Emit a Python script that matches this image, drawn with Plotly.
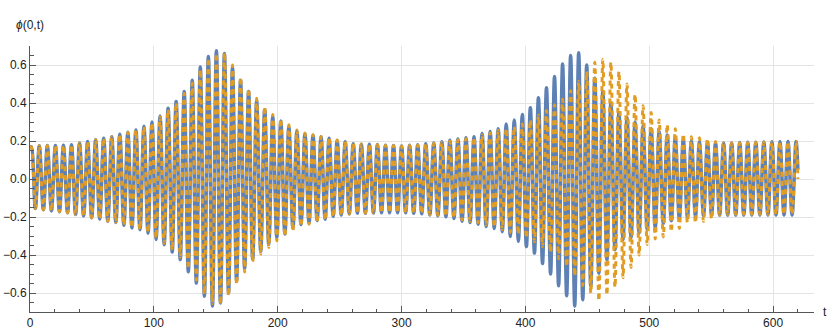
import plotly.graph_objects as go

# times of the maxima / minima
t_peak = [
    1, 7.5, 14, 20.5, 27, 33.5, 40, 46.5, 53, 59.5,
    66, 72.5, 79, 85.5, 92, 98.5, 105, 111.5, 118, 124.5,
    131, 137.5, 144, 150.5, 157, 163.5, 170, 176.5, 183, 189.5,
    196, 202.5, 209, 215.5, 222, 228.5, 235, 241.5, 248, 254.5,
    261, 267.5, 274, 280.5, 287, 293.5, 300, 306.5, 313, 319.5,
    326, 332.5, 339, 345.5, 352, 358.5, 365, 371.5, 378, 384.5,
    391, 397.5, 404, 410.5, 417, 423.5, 430, 436.5, 443, 449.5,
    456, 462.5, 469, 475.5, 482, 488.5, 495, 501.5, 508, 514.5,
    521, 527.5, 534, 540.5, 547, 553.5, 560, 566.5, 573, 579.5,
    586, 592.5, 599, 605.5, 612, 618.5,
]
t_trough = [
    4.3, 10.8, 17.3, 23.8, 30.3, 36.8, 43.3, 49.8, 56.3, 62.8,
    69.3, 75.8, 82.3, 88.8, 95.3, 101.8, 108.3, 114.8, 121.3, 127.8,
    134.3, 140.8, 147.3, 153.8, 160.3, 166.8, 173.3, 179.8, 186.3, 192.8,
    199.3, 205.8, 212.3, 218.8, 225.3, 231.8, 238.3, 244.8, 251.3, 257.8,
    264.3, 270.8, 277.3, 283.8, 290.3, 296.8, 303.3, 309.8, 316.3, 322.8,
    329.3, 335.8, 342.3, 348.8, 355.3, 361.8, 368.3, 374.8, 381.3, 387.8,
    394.3, 400.8, 407.3, 413.8, 420.3, 426.8, 433.3, 439.8, 446.3, 452.8,
    459.3, 465.8, 472.3, 478.8, 485.3, 491.8, 498.3, 504.8, 511.3, 517.8,
    524.3, 530.8, 537.3, 543.8, 550.3, 556.8, 563.3, 569.8, 576.3, 582.8,
    589.3, 595.8, 602.3, 608.8, 615.3,
]
t_start, t_end = 0, 620

# blue (solid) series
blue_max = [
    0.170, 0.175, 0.176, 0.176, 0.177, 0.180, 0.190, 0.197, 0.206, 0.215,
    0.223, 0.236, 0.246, 0.258, 0.277, 0.300, 0.332, 0.372, 0.408, 0.460,
    0.520, 0.590, 0.645, 0.675, 0.660, 0.585, 0.520, 0.460, 0.410, 0.365,
    0.330, 0.305, 0.275, 0.252, 0.238, 0.230, 0.222, 0.215, 0.202, 0.196,
    0.186, 0.183, 0.183, 0.181, 0.178, 0.176, 0.174, 0.177, 0.180, 0.186,
    0.190, 0.196, 0.204, 0.211, 0.217, 0.223, 0.240, 0.250, 0.265, 0.290,
    0.310, 0.340, 0.375, 0.428, 0.480, 0.540, 0.605, 0.650, 0.665, 0.600,
    0.530, 0.460, 0.400, 0.350, 0.325, 0.300, 0.280, 0.265, 0.250, 0.232,
    0.218, 0.208, 0.200, 0.195, 0.192, 0.190, 0.190, 0.190, 0.192, 0.193,
    0.194, 0.195, 0.196, 0.196, 0.197, 0.198,
]
blue_min = [
    -0.155, -0.162, -0.168, -0.172, -0.178, -0.187, -0.194, -0.204, -0.211, -0.222,
    -0.229, -0.244, -0.258, -0.267, -0.285, -0.318, -0.346, -0.384, -0.424, -0.488,
    -0.548, -0.617, -0.668, -0.652, -0.600, -0.535, -0.470, -0.420, -0.380, -0.345,
    -0.310, -0.290, -0.260, -0.240, -0.232, -0.218, -0.212, -0.196, -0.190, -0.183,
    -0.180, -0.180, -0.179, -0.178, -0.177, -0.177, -0.178, -0.180, -0.183, -0.189,
    -0.194, -0.199, -0.208, -0.222, -0.229, -0.238, -0.250, -0.260, -0.277, -0.302,
    -0.328, -0.355, -0.390, -0.445, -0.500, -0.562, -0.615, -0.668, -0.635, -0.565,
    -0.495, -0.425, -0.372, -0.320, -0.310, -0.285, -0.268, -0.258, -0.235, -0.220,
    -0.208, -0.200, -0.197, -0.194, -0.190, -0.190, -0.190, -0.190, -0.190, -0.190,
    -0.190, -0.190, -0.190, -0.190, -0.190,
]
blue_start, blue_end = 0.165, 0.05

# orange (dashed) series
orange_max = [
    0.170, 0.175, 0.176, 0.176, 0.177, 0.180, 0.190, 0.197, 0.206, 0.215,
    0.222, 0.235, 0.245, 0.256, 0.274, 0.296, 0.326, 0.365, 0.400, 0.450,
    0.505, 0.575, 0.635, 0.660, 0.665, 0.600, 0.535, 0.475, 0.425, 0.380,
    0.340, 0.315, 0.285, 0.258, 0.242, 0.233, 0.224, 0.217, 0.205, 0.198,
    0.188, 0.184, 0.183, 0.181, 0.178, 0.176, 0.174, 0.176, 0.179, 0.184,
    0.188, 0.193, 0.200, 0.206, 0.212, 0.218, 0.232, 0.242, 0.255, 0.265,
    0.275, 0.290, 0.310, 0.335, 0.360, 0.390, 0.420, 0.465, 0.515, 0.565,
    0.615, 0.630, 0.615, 0.565, 0.500, 0.445, 0.385, 0.350, 0.310, 0.285,
    0.265, 0.236, 0.223, 0.217, 0.212, 0.198, 0.190, 0.190, 0.191, 0.192,
    0.193, 0.194, 0.195, 0.195, 0.196, 0.197,
]
orange_min = [
    -0.155, -0.162, -0.168, -0.172, -0.178, -0.187, -0.194, -0.204, -0.211, -0.222,
    -0.228, -0.242, -0.255, -0.264, -0.280, -0.310, -0.338, -0.374, -0.412, -0.472,
    -0.532, -0.605, -0.655, -0.660, -0.615, -0.555, -0.490, -0.435, -0.395, -0.360,
    -0.325, -0.300, -0.270, -0.248, -0.238, -0.224, -0.216, -0.200, -0.193, -0.185,
    -0.181, -0.180, -0.179, -0.178, -0.177, -0.177, -0.178, -0.179, -0.182, -0.187,
    -0.191, -0.196, -0.204, -0.215, -0.222, -0.230, -0.242, -0.252, -0.266, -0.280,
    -0.290, -0.310, -0.330, -0.355, -0.385, -0.420, -0.460, -0.510, -0.560, -0.600,
    -0.640, -0.610, -0.570, -0.520, -0.465, -0.400, -0.345, -0.315, -0.305, -0.276,
    -0.260, -0.228, -0.230, -0.224, -0.210, -0.190, -0.186, -0.186, -0.186, -0.186,
    -0.186, -0.186, -0.186, -0.186, -0.186,
]
orange_start, orange_end = 0.165, 0.0


def zip_extrema(start, maxima, minima, end):
    """interleave maxima and minima into one path"""
    xs, ys = [t_start], [start]
    for i, v in enumerate(maxima):
        xs.append(t_peak[i])
        ys.append(v)
        if i < len(minima):
            xs.append(t_trough[i])
            ys.append(minima[i])
    xs.append(t_end)
    ys.append(end)
    return xs, ys


bx, by = zip_extrema(blue_start, blue_max, blue_min, blue_end)
ox, oy = zip_extrema(orange_start, orange_max, orange_min, orange_end)

fig = go.Figure()
fig.add_trace(
    go.Scatter(
        x=bx, y=by, mode="lines", hoverinfo="skip",
        line=dict(color="#5E81B5", width=3.5, shape="spline", smoothing=1),
    )
)
fig.add_trace(
    go.Scatter(
        x=ox, y=oy, mode="lines", hoverinfo="skip",
        line=dict(color="#E19C24", width=3, dash="5px,4px", shape="spline", smoothing=1),
    )
)

axis_col = "#555555"
grid_col = "#e4e4e4"

fig.update_xaxes(
    range=[0, 633], automargin=False,
    tick0=0, dtick=100,
    ticks="inside", ticklen=6, tickcolor=axis_col,
    showline=True, linecolor=axis_col, linewidth=1,
    showgrid=True, gridcolor=grid_col, gridwidth=1,
    zeroline=False,
    minor=dict(dtick=20, tick0=0, ticks="inside", ticklen=3.5, tickcolor=axis_col, showgrid=False),
)
fig.update_yaxes(
    range=[-0.7, 0.7], automargin=False,
    tick0=0, dtick=0.2, tickformat=".1f",
    ticks="inside", ticklen=6, tickcolor=axis_col,
    showline=True, linecolor=axis_col, linewidth=1,
    showgrid=True, gridcolor=grid_col, gridwidth=1,
    zeroline=False,
    minor=dict(dtick=0.05, tick0=0, ticks="inside", ticklen=3.5, tickcolor=axis_col, showgrid=False),
)

fig.add_annotation(
    text="<i>ϕ</i>(0,t)", xref="paper", yref="paper", x=0, y=1,
    xanchor="center", yanchor="bottom", yshift=12, showarrow=False,
)
fig.add_annotation(
    text="t", xref="paper", yref="paper", x=1, y=0,
    xanchor="center", yanchor="middle", xshift=11, showarrow=False,
)

fig.update_layout(
    width=830, height=332,
    margin=dict(l=30, r=16, t=46, b=20),
    plot_bgcolor="white", paper_bgcolor="white",
    showlegend=False,
    font=dict(family="Liberation Sans, Arial, sans-serif", size=12, color="#222222"),
)

# page has a default body margin; drop it so the figure sits at the corner
fig.write_html(
    "out.html",
    config={"displayModeBar": False},
    post_script="document.body.style.margin='0';",
)
